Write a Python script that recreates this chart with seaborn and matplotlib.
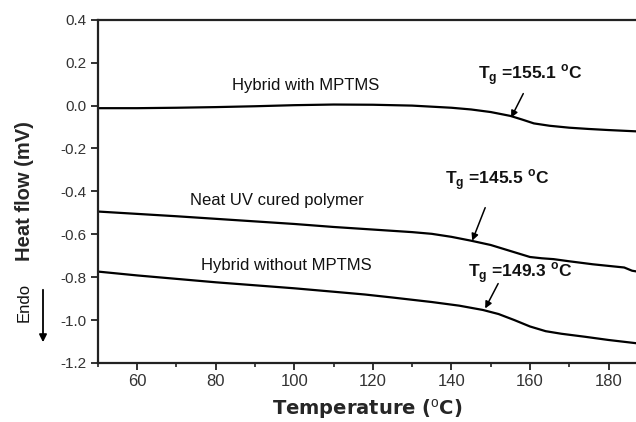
import matplotlib
matplotlib.use("Agg")
import matplotlib.pyplot as plt
import seaborn as sns
import pandas as pd
from matplotlib.ticker import MultipleLocator

# --- data ---
temp_with = [50, 60, 70, 80, 90, 100, 110, 120, 130, 140, 145, 150, 155, 158, 161, 165, 170, 175, 180, 187]
flow_with = [-0.012, -0.012, -0.010, -0.007, -0.003, 0.002, 0.005, 0.004, 0.000, -0.010, -0.018, -0.030, -0.048, -0.065, -0.083, -0.094, -0.103, -0.109, -0.114, -0.120]

temp_neat = [50, 60, 70, 80, 90, 100, 110, 120, 130, 135, 140, 145, 150, 155, 160, 163, 166, 170, 176, 184, 186, 187]
flow_neat = [-0.494, -0.505, -0.516, -0.528, -0.540, -0.552, -0.566, -0.578, -0.590, -0.598, -0.612, -0.630, -0.650, -0.678, -0.706, -0.712, -0.716, -0.726, -0.740, -0.755, -0.770, -0.773]

temp_without = [50, 60, 70, 80, 90, 100, 110, 118, 125, 135, 142, 148, 152, 156, 160, 164, 168, 174, 180, 187]
flow_without = [-0.774, -0.792, -0.808, -0.824, -0.838, -0.852, -0.868, -0.881, -0.895, -0.916, -0.933, -0.953, -0.972, -1.000, -1.030, -1.052, -1.064, -1.078, -1.093, -1.108]

series_names = ["Hybrid with MPTMS", "Neat UV cured polymer", "Hybrid without MPTMS"]
tg_values = ["155.1", "145.5", "149.3"]

frames = []
for name, t, f in zip(series_names, [temp_with, temp_neat, temp_without],
                      [flow_with, flow_neat, flow_without]):
    frames.append(pd.DataFrame({"Temperature": t, "Heat flow": f, "Sample": name}))
df = pd.concat(frames, ignore_index=True)

sns.set_style("ticks")
plt.rcParams['font.family'] = ['Liberation Sans', 'DejaVu Sans']
plt.rcParams['mathtext.fontset'] = 'custom'
plt.rcParams['mathtext.rm'] = 'Liberation Sans'
plt.rcParams['mathtext.bf'] = 'Liberation Sans:bold'

fig = plt.figure(figsize=(6.36, 4.22), dpi=100)
ax = fig.add_axes([0.154, 0.140, 0.846, 0.813])

sns.lineplot(data=df, x="Temperature", y="Heat flow", hue="Sample",
             palette=["black"] * 3, legend=False, linewidth=1.6,
             sort=False, estimator=None, ax=ax)

ax.set_xlim(50, 187)
ax.set_ylim(-1.2, 0.4)
ax.xaxis.set_major_locator(MultipleLocator(20))
ax.xaxis.set_minor_locator(MultipleLocator(10))
ax.yaxis.set_major_locator(MultipleLocator(0.2))
ax.yaxis.set_major_formatter(matplotlib.ticker.FuncFormatter(lambda v, p: f"{v:.1f}"))

for s in ["left", "bottom", "top"]:
    ax.spines[s].set_linewidth(1.6)
    ax.spines[s].set_color("#222222")
ax.spines["right"].set_visible(False)

ax.tick_params(axis="both", which="major", direction="out", length=5, width=1.3,
               color="#222222", labelcolor="#333333")
ax.tick_params(axis="x", which="major", labelsize=12, pad=3)
ax.tick_params(axis="y", which="major", labelsize=11, pad=3)
ax.tick_params(axis="x", which="minor", direction="out", length=3, width=1.2, color="#222222")

ax.set_xlabel("Temperature ($^\\mathrm{o}$C)", fontsize=14, fontweight="bold", labelpad=6,
              family=["DejaVu Sans"])
ax.set_ylabel("Heat flow (mV)", fontsize=14.5, fontweight="bold", labelpad=19)

# curve labels
ax.text(103, 0.093, series_names[0], fontsize=12, ha="center", va="center", color="#111111")
ax.text(95.6, -0.442, series_names[1], fontsize=12, ha="center", va="center", color="#111111")
ax.text(97.9, -0.746, series_names[2], fontsize=12, ha="center", va="center", color="#111111")

# Tg annotations
tg_text_pos = [(160.1, 0.14), (151.7, -0.35), (157.5, -0.78)]
tg_arrow_from = [(158.3, 0.056), (148.6, -0.476), (151.9, -0.83)]
tg_arrow_to = [(155.2, -0.056), (145.3, -0.63), (148.6, -0.946)]
for tg, tp, af, at in zip(tg_values, tg_text_pos, tg_arrow_from, tg_arrow_to):
    ax.text(tp[0], tp[1], "T$_\\mathbf{g}$ =" + tg + " $^\\mathbf{o}$C", fontsize=12.5,
            fontweight="bold", ha="center", va="center", color="#111111")
    ax.annotate("", xy=at, xytext=af,
                arrowprops=dict(arrowstyle="-|>", color="black", lw=1.1,
                                mutation_scale=10, shrinkA=0, shrinkB=0))

# Endo marker
fig.text(24.5 / 636, 1 - 302 / 422, "Endo", rotation=90, fontsize=12,
         ha="center", va="center", color="#111111")
fig.patches.append(matplotlib.patches.FancyArrowPatch(
    (43 / 636, 1 - 287 / 422), (43 / 636, 1 - 345 / 422),
    transform=fig.transFigure, arrowstyle="-|>", mutation_scale=11,
    color="black", lw=1.3))

fig.savefig("out.png", dpi=100)
